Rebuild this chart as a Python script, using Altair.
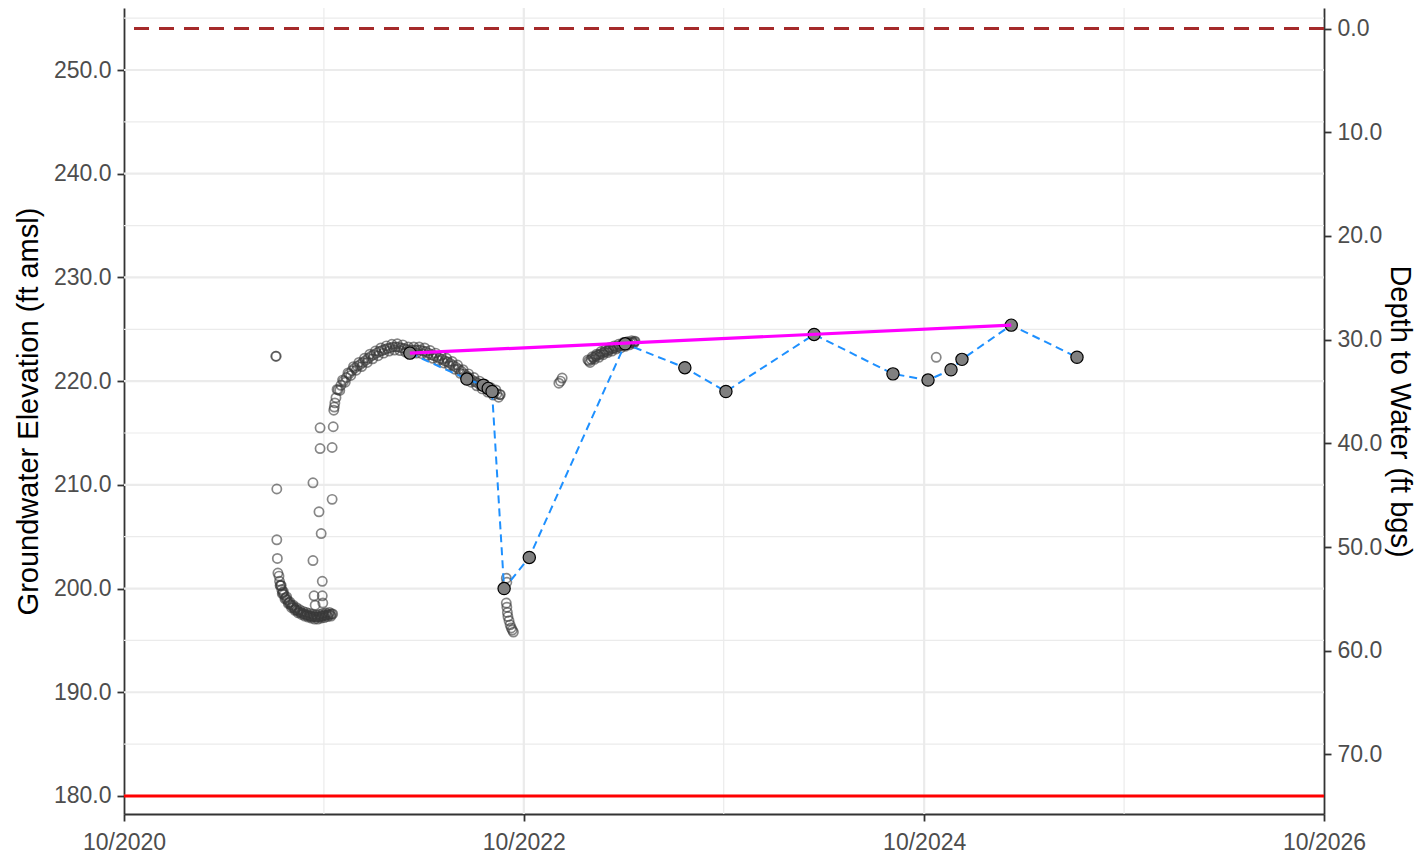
import altair as alt
import pandas as pd

FONT = "Liberation Sans, Arial, Helvetica, sans-serif"

# ---------------- data ----------------
# continuous logger readings (hollow circles)
jul21_dates = ["2021-07-05", "2021-07-06", "2021-07-07", "2021-07-07", "2021-07-08", "2021-07-09"]
jul21_elev = [222.4, 222.4, 209.6, 204.7, 202.9, 201.5]

decay_dates = ["2021-07-11", "2021-07-13", "2021-07-15", "2021-07-17", "2021-07-19", "2021-07-22",
               "2021-07-25", "2021-07-28", "2021-07-31", "2021-08-03", "2021-08-06", "2021-08-09",
               "2021-08-12", "2021-08-15", "2021-08-18", "2021-08-21", "2021-08-24", "2021-08-27",
               "2021-08-30", "2021-09-02", "2021-09-05", "2021-09-08", "2021-09-11", "2021-09-14",
               "2021-09-17", "2021-09-20", "2021-09-23", "2021-09-26", "2021-09-29", "2021-10-02",
               "2021-10-05", "2021-10-08", "2021-10-11", "2021-10-14", "2021-10-17"]
decay_elev = [201.2, 200.3, 200.3, 199.5, 199.7, 199.0, 199.2, 198.55, 198.7, 198.15, 198.4, 197.9,
              198.15, 197.65, 197.95, 197.5, 197.8, 197.35, 197.7, 197.25, 197.6, 197.15, 197.5, 197.05,
              197.45, 197.05, 197.5, 197.15, 197.6, 197.2, 197.65, 197.3, 197.7, 197.35, 197.55]
decay_mid_dates = ["2021-07-12", "2021-07-14", "2021-07-16", "2021-07-18", "2021-07-20", "2021-07-23",
                   "2021-07-26", "2021-07-29", "2021-08-01", "2021-08-04", "2021-08-07", "2021-08-10",
                   "2021-08-13", "2021-08-16", "2021-08-19", "2021-08-22", "2021-08-25", "2021-08-28",
                   "2021-08-31", "2021-09-03", "2021-09-06", "2021-09-09", "2021-09-12", "2021-09-15",
                   "2021-09-18", "2021-09-21", "2021-09-24", "2021-09-27", "2021-09-30", "2021-10-03",
                   "2021-10-06", "2021-10-09", "2021-10-12", "2021-10-15"]
decay_mid_elev = [200.7, 200.3, 199.9, 199.6, 199.4, 199.1, 198.9, 198.65, 198.45, 198.3, 198.15, 198.0,
                  197.9, 197.8, 197.7, 197.65, 197.55, 197.5, 197.45, 197.4, 197.35, 197.3, 197.3, 197.25,
                  197.25, 197.25, 197.3, 197.35, 197.4, 197.4, 197.45, 197.5, 197.5, 197.55]

scatter_dates = ["2021-09-11", "2021-09-24", "2021-10-18", "2021-09-24", "2021-10-16", "2021-10-16",
                 "2021-09-22", "2021-09-26", "2021-09-11", "2021-09-28", "2021-09-13", "2021-09-28",
                 "2021-09-15", "2021-09-29", "2021-10-19", "2021-10-20", "2021-10-21", "2021-10-23"]
scatter_elev = [210.2, 215.5, 215.6, 213.5, 213.6, 208.6, 207.4, 205.3, 202.7, 200.7, 199.3, 199.3,
                198.4, 198.6, 217.2, 217.5, 217.9, 218.4]

arc_dates = ["2021-10-25", "2021-10-30", "2021-11-04", "2021-11-09", "2021-11-14", "2021-11-19",
             "2021-11-24", "2021-11-29", "2021-12-04", "2021-12-09", "2021-12-14", "2021-12-19",
             "2021-12-24", "2021-12-29", "2022-01-03", "2022-01-08", "2022-01-13", "2022-01-18",
             "2022-01-23", "2022-01-28", "2022-02-02", "2022-02-07", "2022-02-12", "2022-02-17",
             "2022-02-22", "2022-02-27", "2022-03-04", "2022-03-09", "2022-03-14", "2022-03-19",
             "2022-03-24", "2022-03-29", "2022-04-03", "2022-04-08", "2022-04-13", "2022-04-18",
             "2022-04-23", "2022-04-28", "2022-05-03", "2022-05-08", "2022-05-13", "2022-05-18",
             "2022-05-23", "2022-05-28", "2022-06-02", "2022-06-07", "2022-06-12", "2022-06-17",
             "2022-06-22", "2022-06-27", "2022-07-02", "2022-07-07", "2022-07-12", "2022-07-17",
             "2022-07-22", "2022-07-27", "2022-08-01", "2022-08-06", "2022-08-11", "2022-08-16",
             "2022-08-19"]
arc_elev = [219.2, 219.1, 220.1, 219.9, 220.8, 220.55, 221.4, 221.05, 221.8, 221.4, 222.2, 221.8,
            222.6, 222.15, 222.9, 222.45, 223.2, 222.7, 223.4, 222.9, 223.55, 223.0, 223.6, 222.95,
            223.5, 222.8, 223.3, 222.7, 223.3, 222.7, 223.3, 222.65, 223.2, 222.5, 222.95, 222.2,
            222.7, 222.0, 222.45, 221.75, 222.2, 221.5, 221.9, 221.15, 221.55, 220.75, 221.1, 220.3,
            220.7, 219.9, 220.35, 219.55, 220.0, 219.25, 219.7, 218.95, 219.4, 218.65, 219.15, 218.45,
            218.7]
arc_mid_dates = ["2021-10-27", "2021-11-01", "2021-11-06", "2021-11-11", "2021-11-16", "2021-11-21",
                 "2021-11-26", "2021-12-01", "2021-12-06", "2021-12-11", "2021-12-16", "2021-12-21",
                 "2021-12-26", "2021-12-31", "2022-01-05", "2022-01-10", "2022-01-15", "2022-01-20",
                 "2022-01-25", "2022-01-30", "2022-02-04", "2022-02-09", "2022-02-14", "2022-02-19",
                 "2022-02-24", "2022-03-01", "2022-03-06", "2022-03-11", "2022-03-16", "2022-03-21",
                 "2022-03-26", "2022-03-31", "2022-04-05", "2022-04-10", "2022-04-15", "2022-04-20",
                 "2022-04-25", "2022-04-30", "2022-05-05", "2022-05-10", "2022-05-15", "2022-05-20",
                 "2022-05-25", "2022-05-30", "2022-06-04", "2022-06-09", "2022-06-14", "2022-06-19",
                 "2022-06-24", "2022-06-29", "2022-07-04", "2022-07-09", "2022-07-14", "2022-07-19",
                 "2022-07-24", "2022-07-29", "2022-08-03", "2022-08-08", "2022-08-13", "2022-08-18"]
arc_mid_elev = [219.15, 219.6, 220.0, 220.35, 220.7, 221.0, 221.25, 221.45, 221.6, 221.8, 222.0, 222.2,
                222.4, 222.55, 222.7, 222.85, 222.95, 223.05, 223.15, 223.2, 223.3, 223.3, 223.3, 223.2,
                223.15, 223.05, 223.0, 223.0, 223.0, 223.0, 223.0, 222.9, 222.85, 222.7, 222.55, 222.45,
                222.35, 222.2, 222.1, 221.95, 221.85, 221.7, 221.5, 221.35, 221.15, 220.95, 220.7, 220.5,
                220.3, 220.1, 219.95, 219.8, 219.6, 219.5, 219.35, 219.2, 219.05, 218.9, 218.8, 218.7]

drop22_dates = ["2022-08-30", "2022-08-31", "2022-08-30", "2022-08-31", "2022-09-01", "2022-09-02",
                "2022-09-04", "2022-09-06", "2022-09-08", "2022-09-10", "2022-09-12",
                "2022-12-04", "2022-12-07", "2022-12-10"]
drop22_elev = [201.0, 200.6, 198.6, 198.2, 197.7, 197.3, 196.9, 196.5, 196.2, 196.0, 195.8,
               219.8, 220.0, 220.3]

band23_dates = ["2023-01-26", "2023-01-30", "2023-02-03", "2023-02-07", "2023-02-11", "2023-02-15",
                "2023-02-19", "2023-02-23", "2023-02-27", "2023-03-03", "2023-03-07", "2023-03-11",
                "2023-03-15", "2023-03-19", "2023-03-23", "2023-03-27", "2023-03-31", "2023-04-04",
                "2023-04-08", "2023-04-12", "2023-04-16", "2023-04-20", "2023-04-22", "2024-10-23"]
band23_elev = [222.05, 221.8, 222.35, 222.1, 222.6, 222.3, 222.85, 222.55, 223.05, 222.75, 223.25, 222.9,
               223.4, 223.1, 223.55, 223.2, 223.7, 223.35, 223.8, 223.5, 223.9, 223.65, 223.85, 222.3]
band23_mid_dates = ["2023-01-28", "2023-02-01", "2023-02-05", "2023-02-09", "2023-02-13", "2023-02-17",
                    "2023-02-21", "2023-02-25", "2023-03-01", "2023-03-05", "2023-03-09", "2023-03-13",
                    "2023-03-17", "2023-03-21", "2023-03-25", "2023-03-29", "2023-04-02", "2023-04-06",
                    "2023-04-10", "2023-04-14", "2023-04-18", "2023-04-21"]
band23_mid_elev = [221.95, 222.1, 222.25, 222.4, 222.5, 222.6, 222.7, 222.8, 222.9, 223.0, 223.1, 223.15,
                   223.25, 223.3, 223.4, 223.45, 223.5, 223.6, 223.65, 223.7, 223.75, 223.8]

# manual measurements (filled circles joined by the dashed blue line)
manual_dates = ["2022-03-07", "2022-06-19", "2022-07-19", "2022-07-28", "2022-08-04", "2022-08-26",
                "2022-10-11", "2023-04-04", "2023-07-22", "2023-10-05", "2024-03-14", "2024-08-05",
                "2024-10-08", "2024-11-19", "2024-12-09", "2025-03-09", "2025-07-07"]
manual_elev = [222.7, 220.2, 219.6, 219.3, 219.0, 200.0, 203.0, 223.6, 221.3, 219.0, 224.5, 220.7,
               220.1, 221.1, 222.1, 225.4, 222.3]

# magenta trend line
trend_dates = ["2022-03-07", "2025-03-09"]
trend_elev = [222.7, 225.4]

# reference levels
ground_elev = 254.0        # ground surface (depth 0)
threshold_elev = [180.0]   # red line
ground_depth = [0.0]

# axes / grid
elev_ticks = [180, 190, 200, 210, 220, 230, 240, 250]
elev_minor = [185, 195, 205, 215, 225, 235, 245, 255]
depth_ticks = [0, 10, 20, 30, 40, 50, 60, 70]
x_tick_years = [2020, 2022, 2024, 2026]
x_major_grid = ["2022-10-01", "2024-10-01"]
x_minor_grid = ["2021-10-01", "2023-10-01", "2025-10-01"]

# ---------------- chart ----------------
W, H = 1200, 806
Y_DOMAIN = [178.26, 255.98]
D_DOMAIN = [ground_elev - Y_DOMAIN[1], ground_elev - Y_DOMAIN[0]]

logger = pd.DataFrame({
    "date": (jul21_dates + decay_dates + decay_mid_dates + scatter_dates + arc_dates + arc_mid_dates
             + drop22_dates + band23_dates + band23_mid_dates),
    "elev": (jul21_elev + decay_elev + decay_mid_elev + scatter_elev + arc_elev + arc_mid_elev
             + drop22_elev + band23_elev + band23_mid_elev),
})
manual = pd.DataFrame({"date": manual_dates, "elev": manual_elev})
trend = pd.DataFrame({"date": trend_dates, "elev": trend_elev})

x_scale = alt.Scale(type="utc", nice=False,
                    domain=[alt.DateTime(year=2020, month=10, date=1, utc=True),
                            alt.DateTime(year=2026, month=10, date=1, utc=True)])
x_axis = alt.Axis(values=[alt.DateTime(year=y, month=10, date=1, utc=True) for y in x_tick_years],
                  format="%m/%Y", title=None, labelPadding=10)
y_scale = alt.Scale(domain=Y_DOMAIN, nice=False, zero=False)
y_axis = alt.Axis(values=elev_ticks, format=".1f", title="Groundwater Elevation (ft amsl)",
                  titlePadding=10)


def X():
    return alt.X("date:T", scale=x_scale, axis=x_axis)


def Y():
    return alt.Y("elev:Q", scale=y_scale, axis=y_axis)


grid_minor_h = alt.Chart(pd.DataFrame({"elev": elev_minor})).mark_rule(
    color="#EBEBEB", strokeWidth=1.2).encode(y=Y())
grid_major_h = alt.Chart(pd.DataFrame({"elev": elev_ticks})).mark_rule(
    color="#EBEBEB", strokeWidth=2.2).encode(y=Y())
grid_minor_v = alt.Chart(pd.DataFrame({"date": x_minor_grid})).mark_rule(
    color="#EBEBEB", strokeWidth=1.2).encode(x=X())
grid_major_v = alt.Chart(pd.DataFrame({"date": x_major_grid})).mark_rule(
    color="#EBEBEB", strokeWidth=2.2).encode(x=X())

red_line = alt.Chart(pd.DataFrame({"elev": threshold_elev})).mark_rule(
    color="#FF0000", strokeWidth=3).encode(y=Y())

logger_pts = alt.Chart(logger).mark_point(
    shape="circle", filled=False, size=85, strokeWidth=1.7, color="#383838", opacity=0.6
).encode(x=X(), y=Y())

manual_line = alt.Chart(manual).mark_line(
    color="#1E90FF", strokeWidth=2, strokeDash=[8, 5]).encode(x=X(), y=Y())
manual_pts = alt.Chart(manual).mark_point(
    shape="circle", filled=True, size=150, fill="#808080", stroke="#000000",
    strokeWidth=1.2, opacity=1).encode(x=X(), y=Y())
trend_line = alt.Chart(trend).mark_line(
    color="#FF00FF", strokeWidth=3.2).encode(x=X(), y=Y())

main = alt.layer(grid_minor_h, grid_major_h, grid_minor_v, grid_major_v, red_line,
                 logger_pts, manual_line, manual_pts, trend_line)

depth_layer = alt.Chart(pd.DataFrame({"depth": ground_depth})).mark_rule(
    color="#A52A2A", strokeWidth=3, strokeDash=[15, 10]
).encode(
    y=alt.Y("depth:Q", scale=alt.Scale(domain=D_DOMAIN, reverse=True, nice=False, zero=False),
            axis=alt.Axis(orient="right", values=depth_ticks, format=".1f",
                          title="Depth to Water (ft bgs)", titlePadding=3))
)

chart = alt.layer(main, depth_layer).resolve_scale(y="independent").properties(
    width=W, height=H,
    autosize=alt.AutoSizeParams(type="none"),
    padding={"left": 116, "top": 0, "right": 94, "bottom": 40},
    background="white",
).configure_view(stroke=None).configure_axis(
    labelFont=FONT, labelFontSize=23, labelColor="#4D4D4D",
    titleFont=FONT, titleFontSize=29, titleFontWeight="normal", titleColor="#000000",
    domainColor="#333333", domainWidth=1.8, tickColor="#333333", tickWidth=1.8, tickSize=7,
    labelPadding=6, grid=False, labelFlush=False, labelOverlap=False, labelBound=False,
    zindex=1,
)

chart.save("out.html", embed_options={"renderer": "svg", "actions": False})
